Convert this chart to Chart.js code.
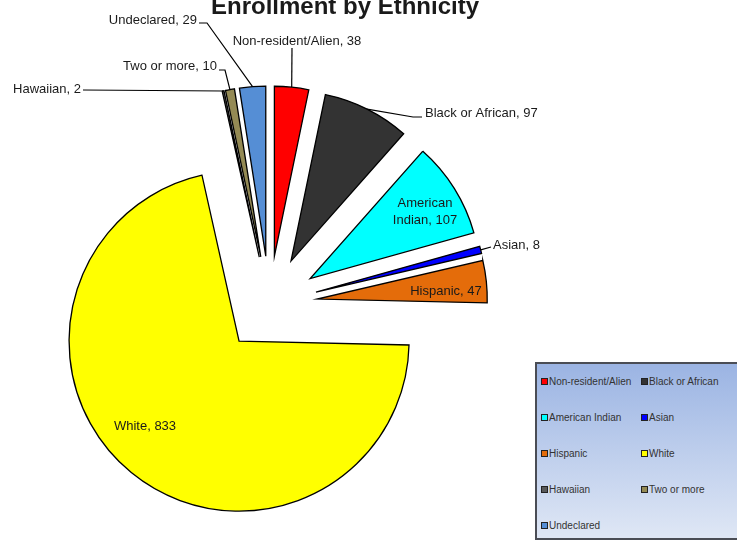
<!DOCTYPE html>
<html>
<head>
<meta charset="utf-8">
<script src="https://cdn.jsdelivr.net/npm/chart.js@4.4.1/dist/chart.umd.min.js"></script>
<style>
    html, body { margin: 0; padding: 0; background: #fff; }
    #wrap { position: relative; width: 737px; height: 542px; overflow: hidden; }
    #ethnicityChart { position: absolute; left: 0; top: 0; }
    #legendBox {
        position: absolute; left: 535px; top: 362px; width: 204px; height: 178px;
        border: 2px solid #4a4d55; box-sizing: border-box;
        background: linear-gradient(to bottom, #9bb4e3, #dfe7f5);
        font-family: 'Liberation Sans', Arial, sans-serif; font-size: 10px; color: #333;
    }
    .lg-item { position: absolute; display: flex; align-items: center; height: 14px; white-space: nowrap; }
    .lg-sw { width: 5px; height: 5px; border: 1px solid #222; margin-right: 1px; }
</style>
</head>
<body>
<div id="wrap">
    <canvas id="ethnicityChart" width="737" height="542"></canvas>
    <div id="legendBox"></div>
</div>
<script>
// data
const categories = ['Non-resident/Alien', 'Black or African', 'American Indian', 'Asian', 'Hispanic', 'White', 'Hawaiian', 'Two or more', 'Undeclared'];
const enrollment = [38, 97, 107, 8, 47, 833, 2, 10, 29];
const sliceColors = ['#ff0000', '#333333', '#00ffff', '#0000ff', '#e46c0a', '#ffff00', '#595959', '#948a54', '#558ed5'];

// label placement (text position, leader start, optional elbow)
const labelPlaces = [
    { tx: 297, ty: 41, align: 'center', lx: 292, ly: 48 },
    { tx: 425, ty: 113, align: 'left', lx: 422, ly: 117, ex: 413 },
    { tx: 425, ty: 203, align: 'center', inside: true, lines: ['American', 'Indian, 107'] },
    { tx: 493, ty: 245, align: 'left', lx: 491, ly: 247 },
    { tx: 446, ty: 291, align: 'center', inside: true },
    { tx: 145, ty: 426, align: 'center', inside: true },
    { tx: 81, ty: 89, align: 'right', lx: 83, ly: 90 },
    { tx: 217, ty: 66, align: 'right', lx: 219, ly: 70, ex: 225 },
    { tx: 197, ty: 20, align: 'right', lx: 199, ly: 23, ex: 207 }
];

const EXPLODE = 48;

// move every slice out along its bisector
const explodePlugin = {
    id: 'explode',
    beforeDatasetsDraw(chart) {
        const a = chart.chartArea;
        const cx = (a.left + a.right) / 2, cy = (a.top + a.bottom) / 2;
        chart.getDatasetMeta(0).data.forEach(function(arc) {
            const mid = (arc.startAngle + arc.endAngle) / 2;
            arc.x = cx + Math.cos(mid) * EXPLODE;
            arc.y = cy + Math.sin(mid) * EXPLODE;
        });
    }
};

// title, data labels, leader lines
const labelPlugin = {
    id: 'sliceLabels',
    afterDatasetsDraw(chart) {
        const ctx = chart.ctx;
        const arcs = chart.getDatasetMeta(0).data;
        ctx.save();
        ctx.fillStyle = '#1a1a1a';
        ctx.font = 'bold 24px "Liberation Sans", Arial, sans-serif';
        ctx.textAlign = 'center';
        ctx.textBaseline = 'alphabetic';
        ctx.fillText('Enrollment by Ethnicity', 345, 14);

        ctx.font = '13px "Liberation Sans", Arial, sans-serif';
        ctx.textBaseline = 'middle';
        ctx.strokeStyle = '#000';
        ctx.lineWidth = 1.2;
        arcs.forEach(function(arc, i) {
            const p = labelPlaces[i];
            const text = categories[i] + ', ' + enrollment[i];
            ctx.textAlign = p.align;
            if (p.lines) {
                p.lines.forEach(function(t, k) { ctx.fillText(t, p.tx, p.ty + k * 17); });
            } else {
                ctx.fillText(text, p.tx, p.ty);
            }
            if (p.inside) return;
            const mid = (arc.startAngle + arc.endAngle) / 2;
            const ox = arc.x + Math.cos(mid) * arc.outerRadius;
            const oy = arc.y + Math.sin(mid) * arc.outerRadius;
            ctx.beginPath();
            ctx.moveTo(p.lx, p.ly);
            if (p.ex !== undefined) ctx.lineTo(p.ex, p.ly);
            ctx.lineTo(ox, oy);
            ctx.stroke();
        });
        ctx.restore();
    }
};

new Chart(document.getElementById('ethnicityChart'), {
    type: 'pie',
    data: {
        labels: categories,
        datasets: [{
            data: enrollment,
            backgroundColor: sliceColors,
            borderColor: '#000',
            borderWidth: 1.3,
            borderJoinStyle: 'miter',
            radius: 170
        }]
    },
    options: {
        responsive: false,
        animation: false,
        events: [],
        layout: { padding: { left: 99.5, right: 297.5, top: 134, bottom: 68 } },
        plugins: {
            legend: { display: false },
            tooltip: { enabled: false },
            title: { display: false }
        }
    },
    plugins: [explodePlugin, labelPlugin]
});

// legend box, two columns
const legendBox = document.getElementById('legendBox');
categories.forEach(function(name, i) {
    const item = document.createElement('div');
    item.className = 'lg-item';
    item.style.left = (i % 2 === 0 ? 4 : 104) + 'px';
    item.style.top = (10 + Math.floor(i / 2) * 36) + 'px';
    item.innerHTML = '<span class="lg-sw" style="background:' + sliceColors[i] + '"></span>' + name;
    legendBox.appendChild(item);
});
</script>
</body>
</html>
